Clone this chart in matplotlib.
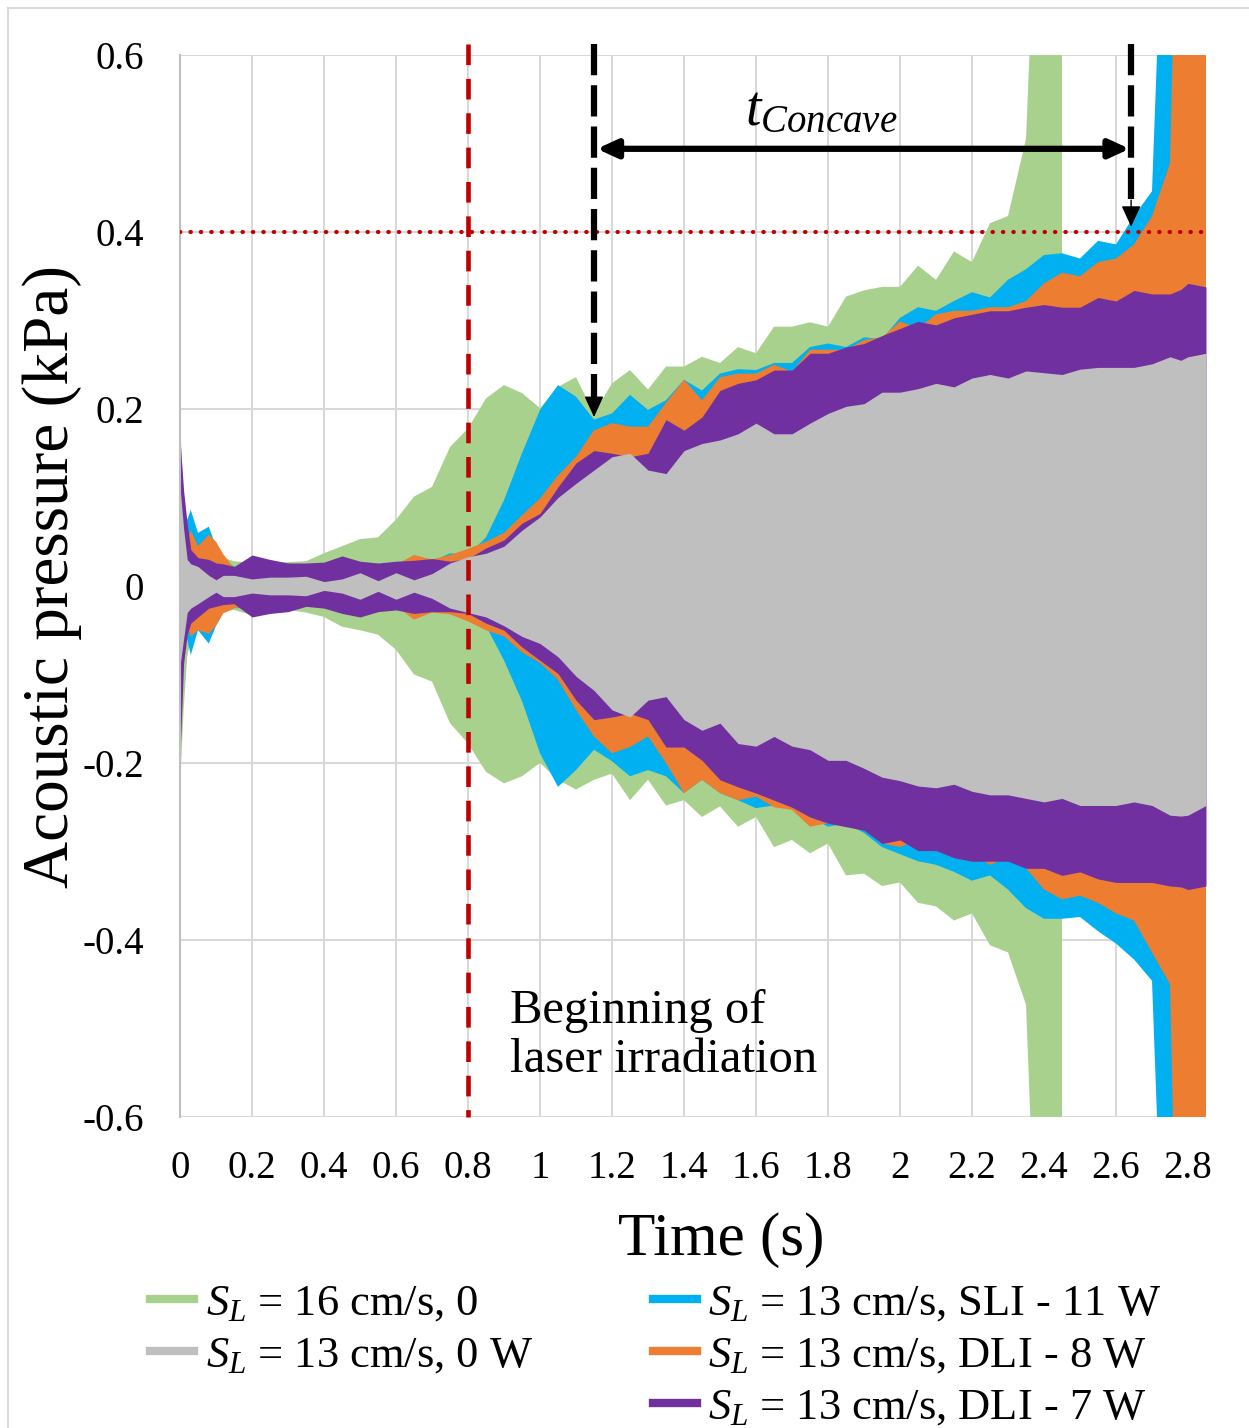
import numpy as np
import matplotlib
matplotlib.use('Agg')
from matplotlib import pyplot as plt
from matplotlib.lines import Line2D
from matplotlib.patches import Rectangle

N = float('nan')

# time axis (s), shared by all series
time_s = [0, 0.01, 0.02, 0.03, 0.05, 0.08, 0.1, 0.12, 0.15,
          0.2, 0.25, 0.3, 0.35, 0.4, 0.45, 0.5, 0.55, 0.6, 0.65, 0.7, 0.75, 0.8, 0.85, 0.9, 0.95,
          1.0, 1.05, 1.1, 1.15, 1.2, 1.25, 1.3, 1.35, 1.4, 1.45, 1.5, 1.55, 1.6, 1.65, 1.7, 1.75,
          1.8, 1.85, 1.9, 1.95,
          2.0, 2.05, 2.1, 2.15, 2.2, 2.25, 2.3, 2.35, 2.4, 2.45, 2.5, 2.55, 2.6, 2.65, 2.7, 2.75,
          2.78, 2.8, 2.85]

# envelopes of the acoustic pressure (kPa)
green_hi = [0.188, 0.10, 0.06, 0.05, 0.04, 0.032, 0.03, 0.032, 0.028,
            0.026, 0.025, 0.027, 0.028, 0.037, 0.045, 0.053, 0.055, 0.075, 0.101, 0.112, 0.157, 0.178, 0.212, 0.227, 0.218,
            0.201, 0.225, 0.236, 0.195, 0.229, 0.244, 0.222, 0.248, 0.248, 0.259, 0.252, 0.27, 0.263, 0.293, 0.293, 0.298,
            0.293, 0.327, 0.334, 0.338,
            0.338, 0.362, 0.346, 0.378, 0.366, 0.41, 0.418, 0.505, 1.0, 1.0, N, N, N, N, N, N,
            N, N, N]
green_lo = [-0.227, -0.14, -0.08, -0.06, -0.05, -0.04, -0.035, -0.03, -0.027,
            -0.033, -0.03, -0.027, -0.03, -0.035, -0.046, -0.05, -0.055, -0.072, -0.1, -0.108, -0.155, -0.178, -0.21, -0.223, -0.215,
            -0.2, -0.219, -0.23, -0.219, -0.212, -0.242, -0.219, -0.248, -0.242, -0.261, -0.249, -0.272, -0.261, -0.295, -0.287, -0.302,
            -0.291, -0.327, -0.325, -0.339,
            -0.335, -0.358, -0.362, -0.378, -0.37, -0.406, -0.414, -0.473, -1.0, -1.0, N, N, N, N, N, N,
            N, N, N]

blue_hi = [0.1, 0.08, 0.075, 0.086, 0.06, 0.067, 0.045, 0.03, 0.022,
           0.022, 0.022, 0.02, 0.02, 0.022, 0.025, 0.022, 0.022, 0.024, 0.025, 0.028, 0.037, 0.035, 0.055, 0.097, 0.15,
           0.199, 0.227, 0.214, 0.188, 0.195, 0.216, 0.199, 0.21, 0.233, 0.221, 0.24, 0.245, 0.244, 0.252, 0.252, 0.27,
           0.274, 0.27, 0.281, 0.279,
           0.303, 0.315, 0.311, 0.322, 0.332, 0.326, 0.346, 0.358, 0.374, 0.376, 0.37, 0.39, 0.386, 0.418, 0.446, 1.0,
           1.0, N, N]
blue_lo = [-0.1, -0.07, -0.06, -0.078, -0.05, -0.065, -0.045, -0.03, -0.025,
           -0.025, -0.022, -0.02, -0.02, -0.022, -0.025, -0.025, -0.022, -0.022, -0.025, -0.025, -0.031, -0.035, -0.045, -0.084, -0.13,
           -0.189, -0.227, -0.208, -0.185, -0.198, -0.215, -0.208, -0.215, -0.234, -0.219, -0.234, -0.242, -0.251, -0.248, -0.25, -0.261,
           -0.272, -0.268, -0.279, -0.295,
           -0.303, -0.311, -0.315, -0.323, -0.333, -0.327, -0.343, -0.364, -0.376, -0.376, -0.374, -0.39, -0.404, -0.422, -0.446, -1.0,
           -1.0, N, N]

orange_hi = [0.09, 0.07, 0.05, 0.063, 0.045, 0.058, 0.05, 0.036, 0.02,
             0.02, 0.02, 0.02, 0.02, 0.02, 0.022, 0.022, 0.022, 0.024, 0.035, 0.03, 0.035, 0.042, 0.05, 0.06, 0.08,
             0.099, 0.125, 0.146, 0.176, 0.184, 0.18, 0.18, 0.207, 0.233, 0.21, 0.236, 0.24, 0.24, 0.25, 0.242, 0.267,
             0.267, 0.267, 0.278, 0.281,
             0.299, 0.291, 0.307, 0.311, 0.311, 0.315, 0.315, 0.322, 0.342, 0.354, 0.35, 0.366, 0.37, 0.386, 0.418, 0.478,
             1.0, 1.0, 1.0]
orange_lo = [-0.09, -0.06, -0.045, -0.057, -0.05, -0.054, -0.045, -0.031, -0.025,
             -0.022, -0.02, -0.02, -0.02, -0.02, -0.022, -0.022, -0.022, -0.022, -0.038, -0.03, -0.032, -0.04, -0.05, -0.057, -0.075,
             -0.087, -0.106, -0.14, -0.17, -0.189, -0.182, -0.17, -0.2, -0.234, -0.219, -0.234, -0.242, -0.238, -0.25, -0.253, -0.272,
             -0.268, -0.264, -0.272, -0.291,
             -0.295, -0.287, -0.299, -0.307, -0.303, -0.315, -0.307, -0.319, -0.343, -0.354, -0.35, -0.358, -0.37, -0.378, -0.414, -0.45,
             -1.0, -1.0, -1.0]

purple_hi = [0.165, 0.108, 0.07, 0.041, 0.032, 0.03, 0.026, 0.025, 0.022,
             0.035, 0.03, 0.026, 0.026, 0.027, 0.034, 0.028, 0.026, 0.028, 0.029, 0.031, 0.028, 0.031, 0.043, 0.052, 0.071,
             0.082, 0.112, 0.139, 0.153, 0.15, 0.146, 0.15, 0.188, 0.176, 0.191, 0.221, 0.229, 0.233, 0.244, 0.244, 0.263,
             0.263, 0.27, 0.274, 0.283,
             0.291, 0.299, 0.295, 0.303, 0.307, 0.311, 0.311, 0.315, 0.318, 0.315, 0.315, 0.326, 0.322, 0.334, 0.33, 0.33,
             0.335, 0.342, 0.338]
purple_lo = [-0.193, -0.087, -0.055, -0.042, -0.035, -0.025, -0.023, -0.021, -0.02,
             -0.035, -0.031, -0.029, -0.023, -0.025, -0.031, -0.035, -0.029, -0.027, -0.031, -0.029, -0.029, -0.031, -0.042, -0.05, -0.069,
             -0.084, -0.099, -0.129, -0.151, -0.148, -0.144, -0.151, -0.182, -0.182, -0.197, -0.219, -0.227, -0.234, -0.242, -0.25, -0.261,
             -0.268, -0.272, -0.276, -0.291,
             -0.287, -0.299, -0.299, -0.307, -0.311, -0.311, -0.311, -0.319, -0.319, -0.327, -0.323, -0.331, -0.335, -0.335, -0.335, -0.339,
             -0.34, -0.343, -0.339]

gray_hi = [0.112, 0.065, 0.03, 0.025, 0.022, 0.012, 0.007, 0.012, 0.012,
           0.008, 0.01, 0.01, 0.011, 0.005, 0.008, 0.015, 0.006, 0.015, 0.007, 0.014, 0.026, 0.033, 0.037, 0.045, 0.063,
           0.078, 0.1, 0.116, 0.131, 0.146, 0.15, 0.131, 0.127, 0.153, 0.161, 0.165, 0.172, 0.184, 0.172, 0.172, 0.184,
           0.195, 0.203, 0.206, 0.219,
           0.219, 0.223, 0.229, 0.225, 0.235, 0.239, 0.235, 0.243, 0.241, 0.239, 0.245, 0.247, 0.247, 0.247, 0.251, 0.259,
           0.255, 0.259, 0.263]
gray_lo = [-0.09, -0.06, -0.03, -0.025, -0.02, -0.012, -0.007, -0.012, -0.012,
           -0.008, -0.01, -0.01, -0.011, -0.005, -0.008, -0.015, -0.006, -0.015, -0.007, -0.014, -0.025, -0.03, -0.035, -0.045, -0.057,
           -0.065, -0.08, -0.102, -0.118, -0.14, -0.148, -0.129, -0.125, -0.151, -0.163, -0.155, -0.178, -0.181, -0.17, -0.181, -0.185,
           -0.197, -0.197, -0.206, -0.216,
           -0.22, -0.226, -0.228, -0.224, -0.232, -0.236, -0.236, -0.24, -0.244, -0.24, -0.248, -0.248, -0.248, -0.244, -0.248, -0.259,
           -0.26, -0.259, -0.248]

labels = ['$S_L$ = 16 cm/s, 0', '$S_L$ = 13 cm/s, 0 W', '$S_L$ = 13 cm/s, SLI - 11 W',
          '$S_L$ = 13 cm/s, DLI - 8 W', '$S_L$ = 13 cm/s, DLI - 7 W']
colors = ['#A9D18E', '#BFBFBF', '#00B0F0', '#ED7D31', '#7030A0']

x_ticks = [0, 0.2, 0.4, 0.6, 0.8, 1.0, 1.2, 1.4, 1.6, 1.8, 2.0, 2.2, 2.4, 2.6, 2.8]
x_ticklabels = ['0', '0.2', '0.4', '0.6', '0.8', '1', '1.2', '1.4', '1.6', '1.8', '2', '2.2', '2.4', '2.6', '2.8']
y_ticks = [-0.6, -0.4, -0.2, 0, 0.2, 0.4, 0.6]
y_ticklabels = ['-0.6', '-0.4', '-0.2', '0', '0.2', '0.4', '0.6']

laser_start = 0.8
threshold = 0.4
concave_start = 1.15
concave_end = 2.642

plt.rcParams['font.family'] = 'Liberation Serif'
plt.rcParams['mathtext.fontset'] = 'custom'
plt.rcParams['mathtext.rm'] = 'Liberation Serif'
plt.rcParams['mathtext.it'] = 'Liberation Serif:italic'

fig = plt.figure(figsize=(12.49, 14.28), dpi=100)
ax = fig.add_axes([180 / 1249, 1 - 1117 / 1428, 1026 / 1249, 1062 / 1428])

t = np.array(time_s)
series = [(green_hi, green_lo, colors[0]),
          (blue_hi, blue_lo, colors[2]),
          (orange_hi, orange_lo, colors[3]),
          (purple_hi, purple_lo, colors[4]),
          (gray_hi, gray_lo, colors[1])]
for hi, lo, c in series:
    assert len(hi) == len(t) and len(lo) == len(t)
    ax.fill_between(t, np.array(lo), np.array(hi), color=c, lw=0, zorder=2)

ax.set_xlim(0, 2.85)
ax.set_ylim(-0.6, 0.6)
ax.set_xticks(x_ticks)
ax.set_xticklabels(x_ticklabels, fontsize=28)
ax.set_yticks(y_ticks)
ax.set_yticklabels(y_ticklabels, fontsize=28)
ax.tick_params(length=0)
ax.tick_params(axis='x', pad=24)
ax.tick_params(axis='y', pad=26)
ax.grid(color='#D9D9D9', lw=1.5, zorder=0)
ax.set_axisbelow(True)
for s in ['top', 'right', 'bottom']:
    ax.spines[s].set_visible(False)
ax.spines['left'].set_color('#BFBFBF')
ax.spines['left'].set_linewidth(1.5)

# reference lines
ax.plot([laser_start, laser_start], [0.612, -0.6], color='#C00000', lw=3.3,
        ls=(0, (4.5, 3.0)), clip_on=False, zorder=5)
ax.axhline(threshold, color='#C00000', lw=3.0, ls=(0, (0.1, 2.4)),
           dash_capstyle='round', zorder=5)

# vertical dashed arrows
for xa, tip in [(concave_start, 0.191), (concave_end, 0.406)]:
    ax.plot([xa, xa], [0.612, tip + 0.02], color='k', lw=4.5, ls=(0, (5, 1.6)),
            clip_on=False, zorder=6)
    ax.annotate('', xy=(xa, tip), xytext=(xa, tip + 0.03),
                arrowprops=dict(arrowstyle='-|>,head_length=1.3,head_width=0.6',
                                mutation_scale=10, color='k', lw=1, shrinkA=0, shrinkB=0),
                zorder=6)

# horizontal double arrow
ax.annotate('', xy=(concave_start + 0.008, 0.494), xytext=(concave_end - 0.004, 0.494),
            arrowprops=dict(arrowstyle='<|-|>,head_length=1.2,head_width=0.55',
                            mutation_scale=10, color='k', lw=4.5, shrinkA=0, shrinkB=0),
            zorder=6)
ax.text(1.78, 0.536, '$t_{Concave}$', fontsize=40, ha='center', va='center', zorder=6)

ax.text(0.917, -0.508, 'Beginning of\nlaser irradiation', fontsize=35,
        ha='left', va='center', linespacing=1.15, zorder=6)

fig.text(721 / 1249, 1 - 1240 / 1428, 'Time (s)', fontsize=44, ha='center', va='center')
fig.text(52 / 1249, 1 - 577 / 1428, 'Acoustic pressure (kPa)', fontsize=47,
         ha='center', va='center', rotation=90)

# legend, left column has an empty slot
handles = [Line2D([], [], color=c, lw=6) for c in colors]
blank = Line2D([], [], color='none')
order = [0, 1, None, 2, 3, 4]
leg_handles = [handles[i] if i is not None else blank for i in order]
leg_labels = [labels[i] if i is not None else ' ' for i in order]
fig.legend(leg_handles, leg_labels, ncol=2, loc='upper left',
           bbox_to_anchor=(150 / 1249, 1 - 1283 / 1428), frameon=False, fontsize=32,
           handlelength=1.0, handletextpad=0.25, columnspacing=2.7,
           labelspacing=0.27, borderpad=0, borderaxespad=0)

# light chart-area border
fig.patches.append(Rectangle((8 / 1249, -0.05), 1.2, 1.05 - 8 / 1428, transform=fig.transFigure,
                             fill=False, edgecolor='#D9D9D9', lw=1.5))

fig.savefig('out.png', dpi=100)
